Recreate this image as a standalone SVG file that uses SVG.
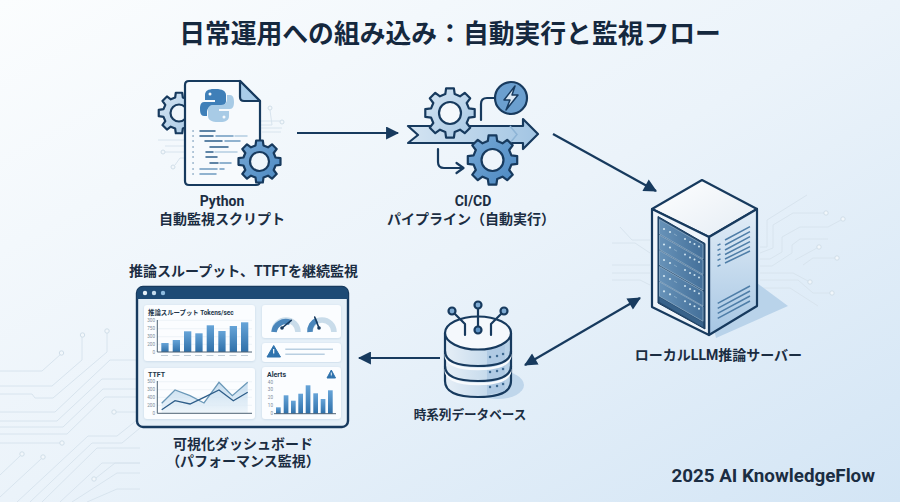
<svg xmlns="http://www.w3.org/2000/svg" width="900" height="502" viewBox="0 0 900 502" lang="ja">
<style>
text{font-family:"Roboto","Noto Sans CJK JP",sans-serif;font-weight:700;fill:#1b2d42}
.lb{font-size:14px;text-anchor:middle}
.tr{fill:none;stroke:#d8e4ee;stroke-width:1}
.trc{fill:#f2f7fb;stroke:#d0dee9;stroke-width:1}
.n{stroke:#173a5e;stroke-width:2.2;stroke-linejoin:round;stroke-linecap:round}
.gs{vector-effect:non-scaling-stroke}
.con{fill:none;stroke:#173a5e;stroke-width:2.2}
.panel{fill:#fbfdff;filter:url(#soft)}
.ax{font-size:4.6px;font-weight:400;fill:#7c8b99;text-anchor:end}
.pt{font-size:7px;fill:#23364a}
.axis{stroke:#4e6274;stroke-width:1;fill:none}
.grid{stroke:#e4ecf2;stroke-width:.6}
.d1{stroke:#2d5d89;stroke-width:1.5;stroke-linecap:round;fill:none}
.d2{stroke:#6f9ac0;stroke-width:1.5;stroke-linecap:round;fill:none}
.d3{stroke:#b4cde1;stroke-width:1.5;stroke-linecap:round;fill:none}
.led{fill:#cfe4ef}
.v{stroke:#4f7ea8;stroke-width:1.5;fill:none}
</style>
<defs>
<linearGradient id="bg" x1="0" y1="0" x2="1" y2="1"><stop offset="0" stop-color="#fbfdfe"/><stop offset=".5" stop-color="#ebf3fa"/><stop offset="1" stop-color="#d3e5f5"/></linearGradient>
<linearGradient id="bar" x1="0" y1="0" x2="0" y2="1"><stop offset="0" stop-color="#66a4d8"/><stop offset="1" stop-color="#2f70a9"/></linearGradient>
<linearGradient id="band" x1="0" y1="0" x2="1" y2="0"><stop offset="0" stop-color="#d4e4f2"/><stop offset="1" stop-color="#a2c5e3"/></linearGradient>
<linearGradient id="side" x1="0" y1="0" x2="0" y2="1"><stop offset="0" stop-color="#e2edf7"/><stop offset="1" stop-color="#a6c6e3"/></linearGradient>
<linearGradient id="top" x1="0" y1="0" x2="1" y2="1"><stop offset="0" stop-color="#ffffff"/><stop offset="1" stop-color="#e4ecf4"/></linearGradient>
<linearGradient id="unit" x1="0" y1="0" x2="1" y2="0"><stop offset="0" stop-color="#6792b8"/><stop offset="1" stop-color="#44709a"/></linearGradient>
<linearGradient id="cyl" x1="0" y1="0" x2="1" y2="0"><stop offset="0" stop-color="#e6eff7"/><stop offset="1" stop-color="#b5cfe6"/></linearGradient>
<linearGradient id="area" x1="0" y1="0" x2="0" y2="1"><stop offset="0" stop-color="#b6d3ea"/><stop offset="1" stop-color="#e8f2f9"/></linearGradient>
<linearGradient id="gb" x1="0" y1="0" x2="1" y2="1"><stop offset="0" stop-color="#78a9d6"/><stop offset="1" stop-color="#4b88c1"/></linearGradient>
<linearGradient id="gl" x1="0" y1="0" x2="1" y2="1"><stop offset="0" stop-color="#d5e5f3"/><stop offset="1" stop-color="#a5c6e3"/></linearGradient>
<filter id="soft" x="-5%" y="-5%" width="110%" height="110%"><feDropShadow dx="0" dy=".6" stdDeviation=".8" flood-color="#9fb9d0" flood-opacity=".45"/></filter>
<marker id="ah" viewBox="0 0 12 12" refX="11" refY="6" markerWidth="14" markerHeight="13" markerUnits="userSpaceOnUse" orient="auto-start-reverse"><path d="M0 0L12 6L0 12z" fill="#173a5e"/></marker>
<path id="gear" class="gs" fill-rule="evenodd" d="M18.9-4.7L24.7-3.9L24.7 3.9L18.9 4.7L16.7 10L20.2 14.7L14.7 20.2L10 16.7L4.7 18.9L3.9 24.7L-3.9 24.7L-4.7 18.9L-10 16.7L-14.7 20.2L-20.2 14.7L-16.7 10L-18.9 4.7L-24.7 3.9L-24.7-3.9L-18.9-4.7L-16.7-10L-20.2-14.7L-14.7-20.2L-10-16.7L-4.7-18.9L-3.9-24.7L3.9-24.7L4.7-18.9L10-16.7L14.7-20.2L20.2-14.7L16.7-10z"/>
<g id="srvunit"><path d="M659.500 219.500L703 244.500V259L659.500 234z" fill="url(#unit)" stroke="#a8c2d8" stroke-width=".6"/><circle class="led" cx="664" cy="229" r="1.100"/><circle class="led" cx="670" cy="232" r="1.100"/><path d="M674 234l3 1.700" stroke="#8fb0c9" stroke-width=".8"/><circle class="led" cx="685" cy="239" r="1"/><circle class="led" cx="690" cy="242" r="1"/><circle class="led" cx="694.500" cy="244" r="1"/><circle class="led" cx="699" cy="246.500" r="1"/></g>
</defs>
<rect width="900" height="502" fill="url(#bg)"/>
<g id="background-traces">
<path class="tr" d="M0 371H42L61 354M0 386H52L82 360V337M0 394H32L35 398H53L107 352V333M0 412H55L110 360H137M0 421H57L102 379H137M0 427H63L103 389H137M0 434H67L105 397H137M0 443H60M116 412H137M0 475L20 456M0 497L41 459M17 502L88 436H117L137 420M30 502L92 443H122L140 428M42 502L97 448H140M60 502L102 463H140M96 478L115 463H140M72 502L117 473H140M87 502L117 489H140"/>
<circle class="trc" cx="61.500" cy="353" r="2.200"/><circle class="trc" cx="82.500" cy="335" r="2.200"/><circle class="trc" cx="107" cy="331" r="2.200"/><circle class="trc" cx="62" cy="443" r="2.200"/><circle class="trc" cx="114" cy="412" r="2.200"/><circle class="trc" cx="22" cy="454" r="2.200"/><circle class="trc" cx="43" cy="457" r="2.200"/><circle class="trc" cx="94" cy="479" r="2.200"/>
<path class="tr" d="M760 247H767V220L807 195M760 253L773 248V225L793 213H824M760 259H770L782 252V237L800 227H828L841 220M760 266H772L792 253V245L800 239H828M795 260L817 248M803 265L813 258H835M760 273H793L808 281M760 280H798L813 293H830M760 288H790L818 306"/>
<circle class="trc" cx="826" cy="213" r="2.200"/><circle class="trc" cx="843" cy="219" r="2.200"/><circle class="trc" cx="819" cy="247" r="2.200"/><circle class="trc" cx="837" cy="258" r="2.200"/><circle class="trc" cx="810" cy="282" r="2.200"/><circle class="trc" cx="832" cy="293" r="2.200"/>
<path class="tr" d="M620 227L632 240H650M612 243H635L650 253M612 265H650M612 273H650M612 280H640L650 285"/>
<path class="tr" d="M261 125H272L270 110M261 121H280M261 128H282M262 132H281M158 140H186M165 146H186M165 152H186M175 165L180 158H187"/>
<circle class="trc" cx="270" cy="108" r="2"/><circle class="trc" cx="282" cy="122" r="2"/><circle class="trc" cx="163" cy="152" r="2"/><circle class="trc" cx="173" cy="167" r="2"/>
</g>
<text id="title" x="450" y="43" text-anchor="middle" style="font-size:25.800px;fill:#15283e">日常運用への組み込み&#xFF1A;自動実行と監視フロー</text>
<g id="connectors">
<path class="con" marker-end="url(#ah)" d="M297 133H398"/>
<path class="con" marker-end="url(#ah)" d="M553 134L656 191"/>
<path class="con" marker-start="url(#ah)" marker-end="url(#ah)" d="M525 365L640 298"/>
<path class="con" marker-end="url(#ah)" d="M440 358H359"/>
</g>
<g id="python-script">
<use href="#gear" class="n" fill="url(#gl)" transform="translate(179 113) scale(.82)"/>
<circle class="n" cx="179" cy="113" r="8.500" fill="#eef5fb"/>
<path class="n" d="M189 81H240L260 101V181Q260 185 256 185H189Q185 185 185 181V85Q185 81 189 81z" fill="#f7fafd"/>
<path class="n" d="M240 81V97Q240 101 244 101H260z" fill="#a9cce9"/>
<path d="M214 89c-6 0-9 2-9 6v5h10v2h-11c-3 0-4 3-4 7c0 4 1 7 4 7h3v-4c0-3 2-6 6-6h8c3 0 5-2 5-5v-6c0-4-4-6-10-6z" fill="#3f7fb8"/>
<circle cx="210" cy="94" r="1.500" fill="#f7fafd"/>
<g transform="rotate(180 217 105.500)"><path d="M214 89c-6 0-9 2-9 6v5h10v2h-11c-3 0-4 3-4 7c0 4 1 7 4 7h3v-4c0-3 2-6 6-6h8c3 0 5-2 5-5v-6c0-4-4-6-10-6z" fill="#a8cbe6"/><circle cx="210" cy="94" r="1.500" fill="#f7fafd"/></g>
<path d="M193 131h.1M193 136h.1M193 141h.1M193 147h.1M193 152h.1M193 157h.1M193 163h.1M193 169h.1M193 174h.1" stroke="#5f89ad" stroke-width="1.500" stroke-linecap="round"/>
<path class="d1" d="M200 131H215M200 136H213M205 141H222M210 147H228M206 152H213M206 157H217M210 163H218"/>
<path class="d2" d="M216 136H233M225 141H240M220 163H231M200 169H217M220 169H224M200 174H216"/>
<path class="d3" d="M235 136H247M215 152H237"/>
<use href="#gear" class="n" fill="url(#gb)" transform="translate(259.500 161.500) scale(.85)"/>
<circle class="n" cx="259.500" cy="161.500" r="9.500" fill="#eef5fb"/>
<text class="lb" x="222" y="206">Python</text>
<text class="lb" x="222" y="224">自動監視スクリプト</text>
</g>
<g id="cicd">
<path class="n" d="M408 126H523V119L538 134L523 149V143H408L418 135z" fill="url(#band)"/>
<path d="M510 126L517 134.500L510 143" fill="none" stroke="#8db4d6" stroke-width="1.500"/>
<use href="#gear" class="n" fill="url(#gl)" transform="translate(450 113)"/>
<circle class="n" cx="450" cy="113" r="11" fill="#f4f8fc"/>
<use href="#gear" class="n" fill="url(#gb)" transform="translate(492.500 160)"/>
<circle class="n" cx="492.500" cy="160" r="11" fill="#eef5fb"/>
<path class="con" stroke-linecap="round" d="M481 120V104Q481 98 487 98H495"/>
<path class="con" stroke-linecap="round" stroke-linejoin="round" d="M438 149V162Q438 168 444 168H463M456.500 163L463.500 168L456.500 173"/>
<circle class="n" cx="511" cy="98" r="16" fill="#6b9fcf"/>
<path class="n" d="M515 86L504 100H510L506 110L518 95H512z" fill="#dce9f5" style="stroke-width:1.500"/>
<text class="lb" x="473" y="206">CI/CD</text>
<text class="lb" x="471" y="224">パイプライン&#xFF08;自動実行&#xFF09;</text>
</g>
<g id="server">
<path d="M757 283L788 306L716 338L712 320z" fill="#b9d3ea"/>
<path class="n" d="M702 180L757 209L709 237L652 209z" fill="url(#top)"/>
<path class="n" d="M757 209V306L709 335V237z" fill="url(#side)"/>
<path class="n" d="M652 209L709 237V335L652 307z" fill="#eef4fa"/>
<path d="M658 216.500L705 243.500V329L658 303z" fill="#274c70" stroke="#173a5e"/>
<use href="#srvunit"/><use href="#srvunit" y="15.500"/><use href="#srvunit" y="31"/><use href="#srvunit" y="47"/><use href="#srvunit" y="62.300"/>
<path d="M659.500 297.300L703 322.300V327L659.500 302z" fill="#38628a"/>
<path class="v" d="M725 240L750 226.700M725 245L750 231.700M725 250L750 236.700M725 254.500L750 241.700M725 259L750 246.700M725 263L750 251M717.700 303.300L750 286M717.700 308.300L750 291M717.700 313.300L750 296M717.700 318.300L750 301"/>
<path class="v" d="M717.500 245.300l3-1.500M717.500 250.300l3-1.500M717.500 255.300l3-1.500M717.500 260.300l3-1.500M717.500 266.300l3-1.500"/>
<text class="lb" x="718.500" y="360">ローカルLLM推論サーバー</text>
</g>
<g id="database">
<ellipse cx="498" cy="385" rx="26" ry="14" fill="#bfd6eb"/>
<path class="n" d="M445 333V381Q445 397 478 397Q511 397 511 381V333z" fill="url(#cyl)"/>
<path d="M487 350L505 345V391L487 395z" fill="#a9c6e1" opacity=".75"/>
<path d="M445.500 354Q445.500 369 478 369Q510.500 369 510.500 354M445.500 369Q445.500 384 478 384Q510.500 384 510.500 369" fill="none" stroke="#f7fafd" stroke-width="2.400"/>
<path class="n" d="M445 351Q445 366 478 366Q511 366 511 351M445 366Q445 381 478 381Q511 381 511 366" fill="none"/>
<ellipse class="n" cx="478" cy="333" rx="33" ry="16.500" fill="#f4f8fc"/>
<path d="M490 357h.1M497 356h.1M503 354h.1M490 372h.1M497 371h.1M503 369h.1M490 387h.1M497 386h.1M503 384h.1" stroke-width="2.400" stroke-linecap="round" stroke="#3f6a92"/>
<path class="n" fill="none" d="M455 314L465 324V335M478 308V327M501 314L491 324V335"/>
<circle class="n" cx="452" cy="311" r="3.500" fill="#7eaad2"/>
<circle class="n" cx="478" cy="305" r="3.500" fill="#7eaad2"/>
<circle class="n" cx="504" cy="311" r="3.500" fill="#7eaad2"/>
<circle class="n" cx="478" cy="330" r="3.500" fill="#5d93c6"/>
<text class="lb" x="470" y="419" style="font-size:12.600px">時系列データベース</text>
</g>
<g id="dashboard">
<text class="lb" x="243.500" y="276">推論スループット、TTFTを継続監視</text>
<rect x="137" y="287" width="211" height="140" rx="6" fill="#e6f0f8" stroke="#173a5e" stroke-width="2.400"/>
<path d="M137 299V293Q137 287 143 287H342Q348 287 348 293V299z" fill="#1d4a75"/>
<circle cx="145" cy="293" r="2.200" fill="#e6f0f8"/><circle cx="154" cy="293" r="2.200" fill="#c5dcee"/><circle cx="163" cy="293" r="2.200" fill="#8fbce0"/>
<rect class="panel" x="144" y="305" width="111" height="56" rx="3"/>
<rect class="panel" x="262" y="305" width="79" height="33" rx="3"/>
<rect class="panel" x="262" y="343" width="79" height="19" rx="3"/>
<rect class="panel" x="144" y="368" width="111" height="51" rx="3"/>
<rect class="panel" x="262" y="367" width="79" height="52" rx="3"/>
<text class="pt" x="148" y="314.500" style="font-size:6.400px">推論スループット Tokens/sec</text>
<path class="grid" d="M157 320.300H252M157 328.700H252M157 336.700H252M157 344.300H252"/>
<g fill="url(#bar)"><rect x="161.300" y="343" width="7.300" height="9"/><rect x="172.700" y="340" width="7.300" height="12"/><rect x="184" y="331.300" width="7.300" height="20.700"/><rect x="195.300" y="333.300" width="7.300" height="18.700"/><rect x="206.700" y="325.300" width="7.300" height="26.700"/><rect x="218.300" y="331" width="7.300" height="21"/><rect x="229.700" y="326" width="7.300" height="26"/><rect x="241" y="322.300" width="7.300" height="29.700"/></g>
<path class="axis" d="M157.300 320V352H252"/>
<text class="ax" x="155" y="322">300</text><text class="ax" x="155" y="330.400">750</text><text class="ax" x="155" y="338.400">300</text><text class="ax" x="155" y="346">200</text><text class="ax" x="155" y="353.700">0</text>
<path d="M161 355.500h7M172.500 355.500h7M184 355.500h7M195 355.500h7M206.500 355.500h7M218 355.500h7M229.500 355.500h7M241 355.500h7" stroke="#c0ccd6" stroke-width="1"/>
<g fill="none" stroke-width="5.500"><path d="M274 332A12 12 0 0 1 298 332M310 332A12 12 0 0 1 334 332" stroke="#c9dcea"/><path d="M274 332A12 12 0 0 1 290 322.300" stroke="#4a86bb"/><path d="M310 332A12 12 0 0 1 317 320.200" stroke="#4a86bb"/></g>
<path d="M282 328L291.300 320.300M319 328L314.700 317" stroke="#173a5e" stroke-width="1.600" stroke-linecap="round"/><circle cx="282" cy="328" r="1.800" fill="#173a5e"/><circle cx="319" cy="328" r="1.800" fill="#173a5e"/>
<path d="M273.700 345.500L280.500 357H267z" fill="#2f73ad" stroke="#2f73ad" stroke-linejoin="round"/><path d="M273.700 349V353.500M273.700 355h.1" stroke="#fff" stroke-width="1.200"/>
<path d="M285.300 349.300H333M285.300 354.300H324.700" stroke="#b9cfe1" stroke-width="1.400"/>
<text class="pt" x="148" y="376.500">TTFT</text>
<path class="grid" d="M157 381.700H252M157 389.700H252M157 397.300H252M157 405.300H252"/>
<path d="M161.700 403.300L175 390L190 395.700L204 403L219 382.300L232.300 395.700L247.700 382.300V413H161.700z" fill="url(#area)" opacity=".75"/>
<path d="M161.700 403.300L175 390L190 395.700L204 403L219 382.300L232.300 395.700L247.700 382.300" fill="none" stroke="#6a98b8" stroke-width="1.300"/>
<path d="M161.700 409.700L175 400.700L190 404L204 397.300L219 390L233.300 400.700L247.700 392.300" fill="none" stroke="#2d5d89" stroke-width="1.300"/>
<path class="axis" d="M157.300 381V413.300H252"/>
<text class="ax" x="155" y="383.400">500</text><text class="ax" x="155" y="391.400">300</text><text class="ax" x="155" y="399">400</text><text class="ax" x="155" y="407">200</text><text class="ax" x="155" y="415">0</text>
<text class="pt" x="267" y="376.500">Alerts</text>
<path d="M331.300 370L335.500 378H327z" fill="#2f73ad" stroke="#2f73ad" stroke-linejoin="round"/><path d="M331.300 372.500V375.500M331.300 376.800h.1" stroke="#fff" stroke-width=".9"/>
<g fill="url(#bar)"><rect x="276" y="407.300" width="4.700" height="6.400"/><rect x="283.700" y="395.300" width="4.700" height="18.400"/><rect x="291" y="400.700" width="4.700" height="13"/><rect x="298.300" y="393.700" width="4.700" height="20"/><rect x="305.700" y="385.300" width="4.700" height="28.400"/><rect x="313.300" y="393.300" width="4.700" height="20.400"/><rect x="320.700" y="399" width="4.700" height="14.700"/><rect x="328" y="390.300" width="4.700" height="23.400"/></g>
<path class="axis" d="M274 413.700H336"/>
<text class="ax" x="273" y="383.600">40</text><text class="ax" x="273" y="391.300">30</text><text class="ax" x="273" y="399.300">20</text><text class="ax" x="273" y="407">10</text><text class="ax" x="273" y="415.300">0</text>
<text class="lb" x="243" y="449">可視化ダッシュボード</text>
<text class="lb" x="243" y="466">&#xFF08;パフォーマンス監視&#xFF09;</text>
</g>
<text id="credit" x="875" y="482" text-anchor="end" style="font-size:18.800px;font-weight:700;fill:#1b2d42">2025 AI KnowledgeFlow</text>
</svg>
